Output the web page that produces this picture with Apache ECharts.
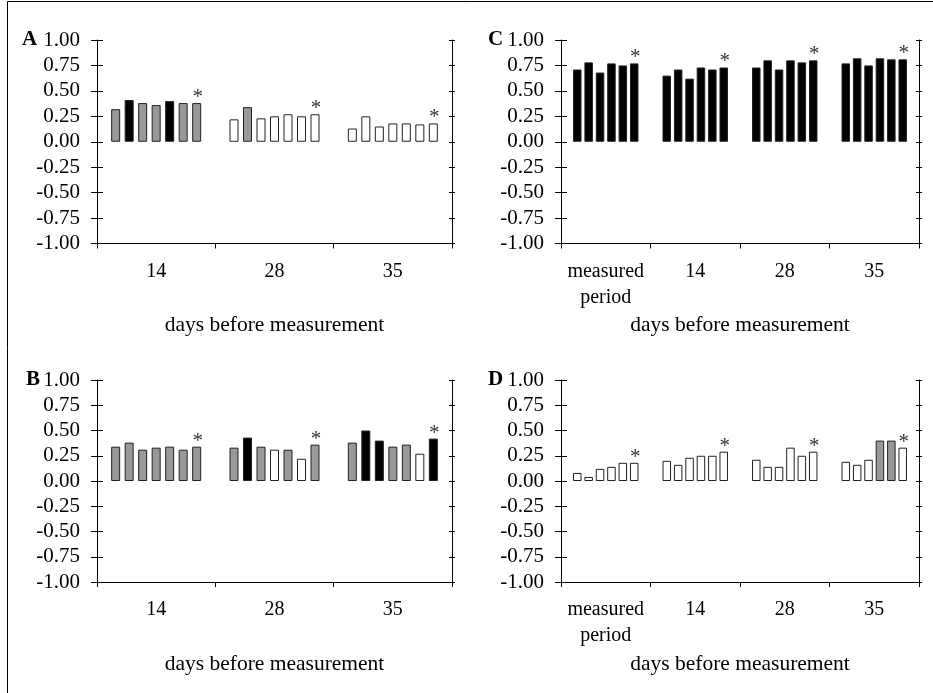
<!DOCTYPE html>
<html>
<head>
<meta charset="utf-8">
<script src="https://cdn.jsdelivr.net/npm/echarts@6/dist/echarts.min.js"></script>
<style>
html,body{margin:0;padding:0;background:#fff;}
#chart{width:933px;height:693px;}
</style>
</head>
<body>
<div id="chart"></div>
<script>
// ---- data ----
const catAB = ['14', '28', '35'];
const catCD = ['measured\nperiod', '14', '28', '35'];
const yMin = -1, yMax = 1, yStep = 0.25;
const xTitle = 'days before measurement';
const panelLetters = ['A', 'B', 'C', 'D'];

// values per category group (each inner array = bars of one group, left to right)
const aValues = [
  [0.32, 0.41, 0.38, 0.36, 0.40, 0.38, 0.38],
  [0.22, 0.34, 0.23, 0.25, 0.27, 0.25, 0.27],
  [0.13, 0.25, 0.15, 0.18, 0.18, 0.17, 0.18]
];
const aShades = [
  ['g', 'k', 'g', 'g', 'k', 'g', 'g'],
  ['w', 'g', 'w', 'w', 'w', 'w', 'w'],
  ['w', 'w', 'w', 'w', 'w', 'w', 'w']
];
const bValues = [
  [0.34, 0.38, 0.31, 0.33, 0.34, 0.31, 0.34],
  [0.33, 0.43, 0.34, 0.31, 0.31, 0.22, 0.36],
  [0.38, 0.50, 0.40, 0.34, 0.36, 0.27, 0.42]
];
const bShades = [
  ['g', 'g', 'g', 'g', 'g', 'g', 'g'],
  ['g', 'k', 'g', 'w', 'g', 'w', 'g'],
  ['g', 'k', 'k', 'g', 'g', 'w', 'k']
];
const cValues = [
  [0.71, 0.78, 0.68, 0.77, 0.75, 0.77],
  [0.65, 0.71, 0.62, 0.73, 0.71, 0.73],
  [0.73, 0.80, 0.71, 0.80, 0.78, 0.80],
  [0.77, 0.82, 0.75, 0.82, 0.81, 0.81]
];
const cShades = [
  ['k', 'k', 'k', 'k', 'k', 'k'],
  ['k', 'k', 'k', 'k', 'k', 'k'],
  ['k', 'k', 'k', 'k', 'k', 'k'],
  ['k', 'k', 'k', 'k', 'k', 'k']
];
const dValues = [
  [0.08, 0.04, 0.12, 0.14, 0.18, 0.18],
  [0.20, 0.16, 0.23, 0.25, 0.25, 0.29],
  [0.21, 0.14, 0.14, 0.33, 0.25, 0.29],
  [0.19, 0.16, 0.21, 0.40, 0.40, 0.33]
];
const dShades = [
  ['w', 'w', 'w', 'w', 'w', 'w'],
  ['w', 'w', 'w', 'w', 'w', 'w'],
  ['w', 'w', 'w', 'w', 'w', 'w'],
  ['w', 'w', 'w', 'g', 'g', 'w']
];

// ---- styling ----
const FONT = "'Liberation Serif', 'Times New Roman', serif";
const shadeColor = { g: '#999999', k: '#000000', w: '#ffffff' };

const panels = [
  { cats: catAB, values: aValues, shades: aShades, grid: { left: 97, top: 40, width: 355, height: 203.5 }, barWidth: 9, barGap: '50%', letter: { left: 22, top: 29 } },
  { cats: catAB, values: bValues, shades: bShades, grid: { left: 97, top: 380, width: 355, height: 202 }, barWidth: 9, barGap: '50%', letter: { left: 26, top: 369 } },
  { cats: catCD, values: cValues, shades: cShades, grid: { left: 561, top: 40, width: 358, height: 203.5 }, barWidth: 8.5, barGap: '34%', letter: { left: 488, top: 29 } },
  { cats: catCD, values: dValues, shades: dShades, grid: { left: 561, top: 380, width: 358, height: 202 }, barWidth: 8.5, barGap: '34%', letter: { left: 488, top: 369 } }
];

const option = {
  animation: false,
  backgroundColor: '#fff',
  textStyle: { fontFamily: FONT },
  title: [],
  grid: [],
  xAxis: [],
  yAxis: [],
  series: [],
  graphic: [
    { type: 'line', shape: { x1: 7.5, y1: 1.5, x2: 933, y2: 1.5 }, style: { stroke: '#000', lineWidth: 1 } },
    { type: 'line', shape: { x1: 7.5, y1: 1.5, x2: 7.5, y2: 693 }, style: { stroke: '#000', lineWidth: 1 } }
  ]
};

const lineStyle = { color: '#000', width: 1 };

panels.forEach((p, pi) => {
  option.grid.push(Object.assign({ containLabel: false }, p.grid));
  option.title.push({
    text: panelLetters[pi], left: p.letter.left, top: p.letter.top, padding: 0,
    textStyle: { fontFamily: FONT, fontWeight: 'bold', fontSize: 21, color: '#000', lineHeight: 22 }
  });
  option.xAxis.push({
    type: 'category', gridIndex: pi, data: p.cats, position: 'bottom',
    axisLine: { onZero: false, lineStyle },
    axisTick: { show: true, length: 5, lineStyle, alignWithLabel: false },
    axisLabel: { color: '#000', fontFamily: FONT, fontSize: 20, lineHeight: 26, margin: 15, interval: 0 },
    splitLine: { show: false },
    name: xTitle, nameLocation: 'middle', nameGap: 71,
    nameTextStyle: { color: '#000', fontFamily: FONT, fontSize: 21.5 }
  });
  const base = { type: 'value', gridIndex: pi, min: yMin, max: yMax, interval: yStep, splitLine: { show: false } };
  const yi = option.yAxis.length;
  // main left axis with labels and outer ticks
  option.yAxis.push(Object.assign({}, base, {
    position: 'left',
    axisLine: { show: true, lineStyle },
    axisTick: { show: true, length: 6, lineStyle },
    axisLabel: { color: '#000', fontFamily: FONT, fontSize: 21, margin: 17, formatter: v => v.toFixed(2) }
  }));
  // inner half of left ticks
  option.yAxis.push(Object.assign({}, base, {
    position: 'left',
    axisLine: { show: false },
    axisTick: { show: true, inside: true, length: 6, lineStyle },
    axisLabel: { show: false }
  }));
  // right axis line with small crossing ticks
  option.yAxis.push(Object.assign({}, base, {
    position: 'right',
    axisLine: { show: true, lineStyle },
    axisTick: { show: true, length: 3, lineStyle },
    axisLabel: { show: false }
  }));
  option.yAxis.push(Object.assign({}, base, {
    position: 'right',
    axisLine: { show: false },
    axisTick: { show: true, inside: true, length: 3, lineStyle },
    axisLabel: { show: false }
  }));

  const nBars = p.values[0].length;
  for (let j = 0; j < nBars; j++) {
    const isLast = j === nBars - 1;
    option.series.push({
      type: 'bar',
      xAxisIndex: pi,
      yAxisIndex: yi,
      barWidth: p.barWidth,
      barGap: p.barGap,
      data: p.values.map((g, i) => ({
        value: g[j],
        itemStyle: { color: shadeColor[p.shades[i][j]], borderColor: '#222', borderWidth: 1 }
      })),
      label: isLast ? {
        show: true, position: 'top', distance: 0, offset: [1, 5], formatter: '*',
        fontFamily: FONT, fontSize: 21, color: '#333'
      } : { show: false }
    });
  }
});

const chart = echarts.init(document.getElementById('chart'), null, { renderer: 'canvas' });
chart.setOption(option);
</script>
</body>
</html>
